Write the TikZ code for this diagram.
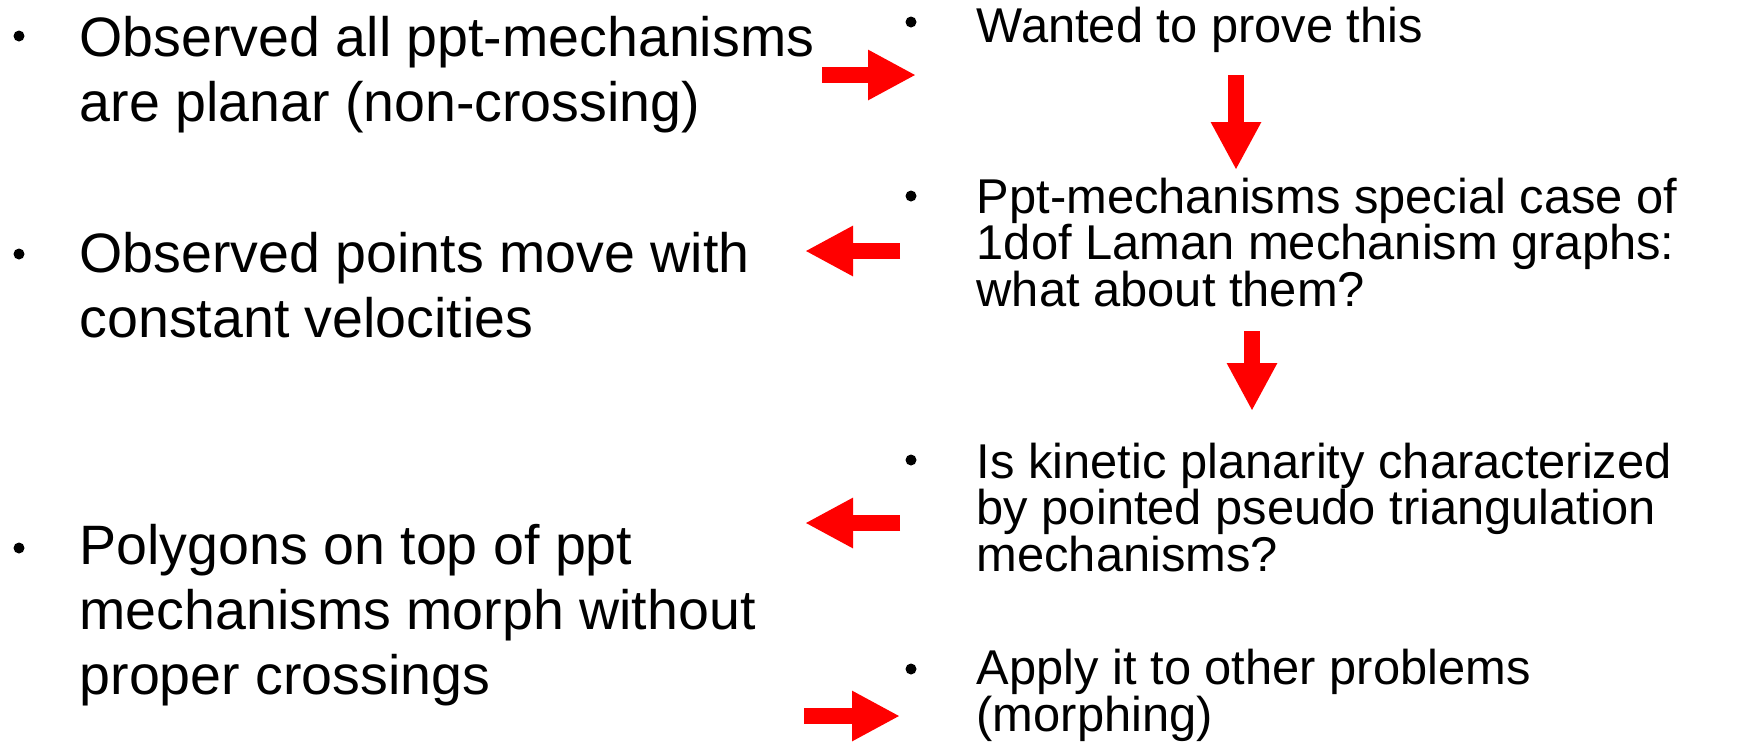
\documentclass[tikz,border=0pt]{standalone}
\usepackage{fontspec}
\setmainfont{Liberation Sans}
\usetikzlibrary{arrows.meta}

\begin{document}
\begin{tikzpicture}[every node/.style={inner sep=0pt}, litem/.style={anchor=base west,align=left,font=\fontsize{15.8}{18.4}\selectfont}, ritem/.style={anchor=base west,align=left,font=\fontsize{13.9}{13.1}\selectfont}, bulletdot/.style={circle,fill=black,minimum size=0.11cm}, flow/.style={red,line width=0.16cm,-{Triangle[length=0.48cm,width=0.47cm]}}]
\useasboundingbox (0,0) rectangle (17.49,-7.44);
% left column (nodes sit on the baseline of their last line)
\node[litem] (obs) at (0.79,-1.21) {Observed all ppt-mechanisms\\are planar (non-crossing)};
\node[litem] (vel) at (0.79,-3.37) {Observed points move with\\constant velocities};
\node[litem] (poly) at (0.79,-6.94) {Polygons on top of ppt\\mechanisms morph without\\proper crossings};
\node[bulletdot] (bo) at (0.19,-0.36) {};
\node[bulletdot] (bv) at (0.19,-2.54) {};
\node[bulletdot] (bp) at (0.19,-5.48) {};
% right column
\node[ritem] (want) at (9.76,-0.42) {Wanted to prove this};
\node[ritem] (laman) at (9.76,-3.06) {Ppt-mechanisms special case of\\1dof Laman mechanism graphs:\\what about them?};
\node[ritem] (kin) at (9.76,-5.71) {Is kinetic planarity characterized\\by pointed pseudo triangulation\\mechanisms?};
\node[ritem] (apply) at (9.76,-7.31) {Apply it to other problems\\(morphing)};
\node[bulletdot] (bw) at (9.11,-0.22) {};
\node[bulletdot] (bl) at (9.11,-1.96) {};
\node[bulletdot] (bk) at (9.11,-4.60) {};
\node[bulletdot] (ba) at (9.11,-6.69) {};
% block arrows
\coordinate (a1) at (8.22,-0.75); \coordinate (a1e) at (9.16,-0.75);
\coordinate (a2) at (12.36,-0.75); \coordinate (a2e) at (12.36,-1.70);
\coordinate (a3) at (9.00,-2.51); \coordinate (a3e) at (8.05,-2.51);
\coordinate (a4) at (12.52,-3.31); \coordinate (a4e) at (12.52,-4.11);
\coordinate (a5) at (9.00,-5.23); \coordinate (a5e) at (8.05,-5.23);
\coordinate (a6) at (8.04,-7.16); \coordinate (a6e) at (9.00,-7.16);
\draw[flow] (a1) -- (a1e);
\draw[flow] (a2) -- (a2e);
\draw[flow] (a3) -- (a3e);
\draw[flow] (a4) -- (a4e);
\draw[flow] (a5) -- (a5e);
\draw[flow] (a6) -- (a6e);
\end{tikzpicture}
\end{document}
